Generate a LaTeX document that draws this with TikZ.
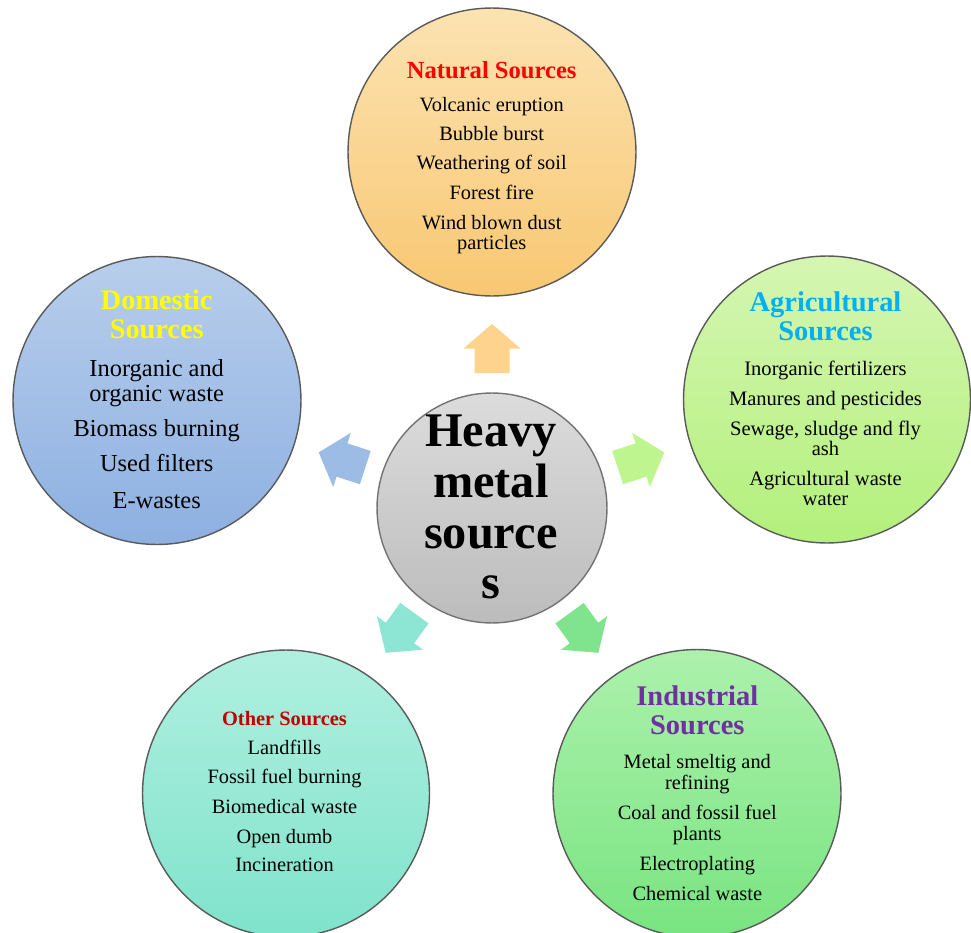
\documentclass[tikz,border=0pt]{standalone}
\usepackage{fontspec}
\setmainfont{Liberation Serif}
\definecolor{natT}{HTML}{FCE3B2}\definecolor{natB}{HTML}{F8C772}
\definecolor{domT}{HTML}{B8CEEC}\definecolor{domB}{HTML}{8DB0E1}
\definecolor{agrT}{HTML}{D5F6B2}\definecolor{agrB}{HTML}{B3F07C}
\definecolor{othT}{HTML}{B0EFE0}\definecolor{othB}{HTML}{7FE3CB}
\definecolor{indT}{HTML}{ACF1AC}\definecolor{indB}{HTML}{79E481}
\definecolor{cenT}{HTML}{DCDCDC}\definecolor{cenB}{HTML}{BCBCBC}
\definecolor{arrN}{HTML}{FDD38D}\definecolor{arrD}{HTML}{9DBCE5}
\definecolor{arrA}{HTML}{BEF58E}\definecolor{arrO}{HTML}{8CE6D3}
\definecolor{arrI}{HTML}{80E48E}
\definecolor{hNat}{HTML}{FF0000}\definecolor{hDom}{HTML}{FFFF00}
\definecolor{hAgr}{HTML}{00B0F0}\definecolor{hOth}{HTML}{C00000}
\definecolor{hInd}{HTML}{7030A0}\definecolor{rim}{HTML}{5A5A5A}
\tikzset{
  src/.style={circle, draw=rim, line width=0.8pt, inner sep=0pt, minimum size=#1},
  txt/.style={anchor=base, inner sep=0pt},
  fatarrow/.pic={\fill[pic actions] (-24.5,-17.5) -- (0,-17.5) -- (0,-28.5) -- (24.5,0) -- (0,28.5) -- (0,17.5) -- (-24.5,17.5) -- cycle;}
}
\begin{document}
\begin{tikzpicture}[x=0.02cm, y=-0.02cm]
\useasboundingbox (0,0) rectangle (971,933);
% circles
\node[src=5.76cm, top color=natT, bottom color=natB] (nat) at (492,152) {};
\node[src=5.76cm, top color=domT, bottom color=domB] (dom) at (157,400.5) {};
\node[src=5.74cm, top color=agrT, bottom color=agrB] (agr) at (827,399.5) {};
\node[src=5.74cm, top color=othT, bottom color=othB] (oth) at (286,793.5) {};
\node[src=5.76cm, top color=indT, bottom color=indB] (ind) at (697,793.5) {};
\node[src=4.6cm, top color=cenT, bottom color=cenB, draw=black!55] (cen) at (492,508) {};
% arrows
\pic[rotate=90, fill=arrN] (aN) at (492,348.5) {fatarrow};
\pic[rotate=162, fill=arrD] (aD) at (342,460) {fatarrow};
\pic[rotate=18, fill=arrA] (aA) at (641,460) {fatarrow};
\pic[rotate=-126, fill=arrO] (aO) at (400,633) {fatarrow};
\pic[rotate=-54, fill=arrI] (aI) at (584,633) {fatarrow};
% natural
\node[txt, text=hNat, font=\bfseries\fontsize{14}{16}\selectfont] (natH) at (491.7,78.3) {Natural Sources};
\foreach \yy/\txt [count=\i] in {111.7/Volcanic eruption, 140/Bubble burst, 169.3/Weathering of soil, 199.3/Forest fire, 229.3/Wind blown dust, 249.3/particles}
  \node[txt, font=\fontsize{11.6}{13}\selectfont] (nat\i) at (491.7,\yy) {\txt};
% domestic
\foreach \yy/\txt [count=\i] in {309.3/Domestic, 338/Sources}
  \node[txt, text=hDom, font=\bfseries\fontsize{16.1}{18}\selectfont] (domH\i) at (156.7,\yy) {\txt};
\foreach \yy/\txt [count=\i] in {376/Inorganic and, 401.7/organic waste, 436.7/Biomass burning, 471.7/Used filters, 508.3/E-wastes}
  \node[txt, font=\fontsize{13.9}{16}\selectfont] (dom\i) at (156.7,\yy) {\txt};
% agricultural
\foreach \yy/\txt [count=\i] in {311.7/Agricultural, 340/Sources}
  \node[txt, text=hAgr, font=\bfseries\fontsize{16.2}{18}\selectfont] (agrH\i) at (825.5,\yy) {\txt};
\foreach \yy/\txt [count=\i] in {375/Inorganic fertilizers, 405/Manures and pesticides, 435/{Sewage, sludge and fly}, 455/ash, 485/Agricultural waste, 505/water}
  \node[txt, font=\fontsize{11.7}{13}\selectfont] (agr\i) at (825.5,\yy) {\txt};
% center
\foreach \yy/\txt [count=\i] in {446.7/Heavy, 497.3/metal, 548.3/source, 598.3/s}
  \node[txt, font=\bfseries\fontsize{27.5}{30}\selectfont] (cen\i) at (490.8,\yy) {\txt};
% other
\node[txt, text=hOth, font=\bfseries\fontsize{11.6}{13}\selectfont] (othH) at (284.5,725) {Other Sources};
\foreach \yy/\txt [count=\i] in {754/Landfills, 783.3/Fossil fuel burning, 813.3/Biomedical waste, 843.3/Open dumb, 871.7/Incineration}
  \node[txt, font=\fontsize{11.6}{13}\selectfont] (oth\i) at (284.5,\yy) {\txt};
% industrial
\foreach \yy/\txt [count=\i] in {705/Industrial, 734/Sources}
  \node[txt, text=hInd, font=\bfseries\fontsize{16.2}{18}\selectfont] (indH\i) at (697.3,\yy) {\txt};
\foreach \yy/\txt [count=\i] in {768.3/Metal smeltig and, 789.3/refining, 819.3/Coal and fossil fuel, 840/plants, 870.7/Electroplating, 900/Chemical waste}
  \node[txt, font=\fontsize{11.6}{13}\selectfont] (ind\i) at (697.3,\yy) {\txt};
\end{tikzpicture}
\end{document}
